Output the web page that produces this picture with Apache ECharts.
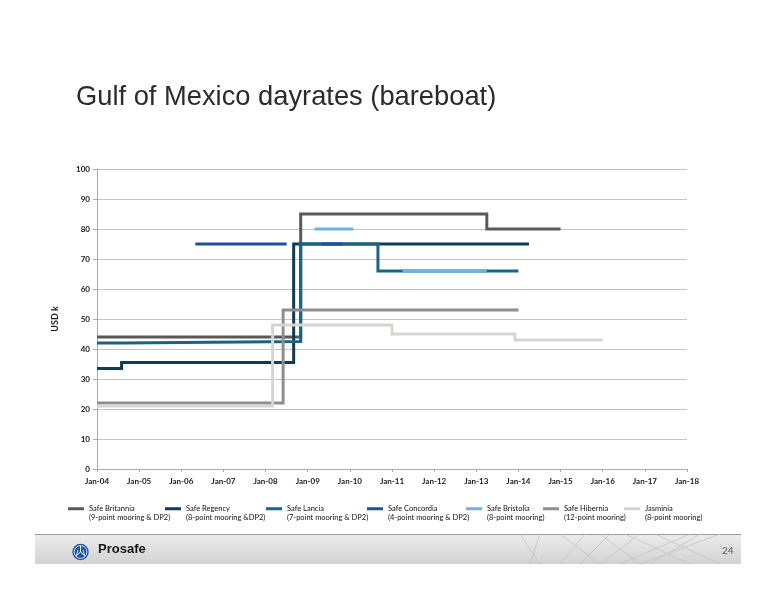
<!DOCTYPE html>
<html>
<head>
<meta charset="utf-8">
<script src="https://cdn.jsdelivr.net/npm/echarts@6/dist/echarts.min.js"></script>
<style>
html,body{margin:0;padding:0;background:#fff;}
#c{width:776px;height:600px;}
</style>
</head>
<body>
<div id="c"></div>
<script>
// ---- data (dates = start of each rate period, last date = end of last period; null = no contract) ----
const seriesNames = ['Safe Britannia','Safe Regency','Safe Lancia','Safe Concordia','Safe Bristolia','Safe Hibernia','Jasminia'];
const seriesNotes = ['(9-point mooring & DP2)','(8-point mooring &DP2)','(7-point mooring & DP2)','(4-point mooring & DP2)','(8-point mooring)','(12-point mooring)','(8-point mooring)'];

const britanniaDates  = ['2004-01','2008-11','2013-04','2015-01'];
const britanniaValues = [44, 85, 80];

const regencyDates  = ['2004-01','2004-08','2008-09','2014-04'];
const regencyValues = [33.5, 35.5, 75];

const lanciaDates  = ['2004-01','2004-08','2008-11','2010-09','2014-01'];
const lanciaValues = [42, 42.5, 75, 66];

const concordiaDates  = ['2006-05','2008-07','2009-05','2009-11'];
const concordiaValues = [75, null, 75];

const bristoliaDates  = ['2009-03','2010-02','2011-04','2013-04'];
const bristoliaValues = [80, null, 66];

const hiberniaDates  = ['2004-01','2008-06','2014-01'];
const hiberniaValues = [22, 53];

const jasminiaDates  = ['2004-01','2008-03','2011-01','2013-12','2016-01'];
const jasminiaValues = [21, 48, 45, 43];

const xTickYears = [2004,2005,2006,2007,2008,2009,2010,2011,2012,2013,2014,2015,2016,2017,2018];
const yTicks = [0,10,20,30,40,50,60,70,80,90,100];

const colors = ['#595959','#0e3a5c','#17657f','#1f4fa0','#6cb3e3','#8e8e8e','#d6d6d1'];

// ---- helpers ----
function toYear(s){ const p = s.split('-'); return +p[0] + (+p[1]-1)/12; }
function build(dates, values){
  const pts = [];
  for (let i=0;i<values.length;i++){
    const v = values[i];
    if (v == null){ pts.push([toYear(dates[i]), null]); continue; }
    pts.push([toYear(dates[i]), v]);
    if (values[i+1] == null) pts.push([toYear(dates[i+1]), v]);
  }
  return pts;
}
const allDates = [britanniaDates,regencyDates,lanciaDates,concordiaDates,bristoliaDates,hiberniaDates,jasminiaDates];
const allValues = [britanniaValues,regencyValues,lanciaValues,concordiaValues,bristoliaValues,hiberniaValues,jasminiaValues];

const series = seriesNames.map((n,i)=>({
  name:n, type:'line', step:'end', showSymbol:false, symbol:'none',
  connectNulls:false, silent:true, animation:false,
  data: build(allDates[i], allValues[i]),
  lineStyle:{color:colors[i], width:3, cap:'butt', join:'miter'},
  itemStyle:{color:colors[i]}
}));

const legendTextStarts = [89,186,287,388,487,564,645];
const legends = seriesNames.map((n,i)=>({
  data:[{name:n, icon:'rect'}],
  left: legendTextStarts[i]-21, top: 496,
  itemWidth:16, itemHeight:3, padding:0,
  formatter: () => '\n' + n + '\n' + seriesNotes[i],
  textStyle:{fontFamily:'Lato', fontSize:7.5, color:'#111111', lineHeight:8.5},
  selectedMode:false
}));

// decorative footer hatch lines
const hatch = [
  [[585,534],[560,564]],[[600,534],[640,564]],[[610,534],[580,564]],[[625,534],[690,564]],
  [[640,534],[600,564]],[[655,534],[720,564]],[[690,534],[620,564]],[[700,534],[650,564]],
  [[540,534],[530,564]],[[560,534],[600,564]],[[720,534],[640,564]],[[520,534],[540,564]]
];

const chart = echarts.init(document.getElementById('c'), null, {renderer:'canvas'});
chart.setOption({
  animation:false,
  backgroundColor:'#ffffff',
  title:{
    text:'Gulf of Mexico dayrates (bareboat)', left:71, top:79,
    textStyle:{fontFamily:'Liberation Sans', fontSize:27.3, fontWeight:'normal', color:'#2b2b2b'}
  },
  grid:{left:97, right:89, top:169, bottom:131, containLabel:false},
  xAxis:{
    type:'value', min:2004, max:2018, interval:1,
    axisLine:{show:true, lineStyle:{color:'#a8a8a8', width:1}},
    axisTick:{show:true, length:3, lineStyle:{color:'#a8a8a8'}},
    splitLine:{show:false},
    axisLabel:{margin:8, fontFamily:'Lato', fontWeight:'bold', fontSize:8, color:'#1a1a1a',
      formatter: v => 'Jan-' + String(v).slice(2)}
  },
  yAxis:{
    type:'value', min:0, max:100, interval:10,
    name:'USD k', nameLocation:'middle', nameGap:37, nameRotate:90,
    nameTextStyle:{fontFamily:'Lato', fontWeight:'bold', fontSize:9, color:'#1a1a1a'},
    axisLine:{show:true, lineStyle:{color:'#a8a8a8', width:1}},
    axisTick:{show:true, length:4, lineStyle:{color:'#a8a8a8'}},
    splitLine:{show:true, lineStyle:{color:'#c4c4c4', width:1}},
    axisLabel:{margin:7, fontFamily:'Lato', fontWeight:'bold', fontSize:8, color:'#1a1a1a'}
  },
  legend: legends,
  series: series,
  graphic:[
    {type:'rect', shape:{x:35, y:534, width:706, height:30}, z:-1,
      style:{fill:new echarts.graphic.LinearGradient(0,0,0,1,[{offset:0,color:'#ececec'},{offset:1,color:'#d2d2d2'}])}},
    {type:'line', shape:{x1:35,y1:534.5,x2:741,y2:534.5}, style:{stroke:'#9a9a9a', lineWidth:1}},
    ...hatch.map(h=>({type:'line', z:0, shape:{x1:h[0][0],y1:h[0][1],x2:h[1][0],y2:h[1][1]}, style:{stroke:'#c2c2c2', lineWidth:0.8}})),
    {type:'circle', shape:{cx:80.5, cy:552, r:8.2}, style:{fill:'#1c56a3'}},
    {type:'circle', shape:{cx:80.5, cy:552, r:6.4}, style:{fill:'none', stroke:'#ffffff', lineWidth:0.8}},
    {type:'polyline', shape:{points:[[80.5,546],[80.5,552],[76,556]]}, style:{stroke:'#fff', lineWidth:1, fill:'none'}},
    {type:'polyline', shape:{points:[[80.5,552],[85,556]]}, style:{stroke:'#fff', lineWidth:1, fill:'none'}},
    {type:'polyline', shape:{points:[[78,550],[76.5,555]]}, style:{stroke:'#fff', lineWidth:0.8, fill:'none'}},
    {type:'polyline', shape:{points:[[83,550],[84.5,555]]}, style:{stroke:'#fff', lineWidth:0.8, fill:'none'}},
    {type:'text', left:98, top:543, style:{text:'Prosafe', fontFamily:'Liberation Sans', fontWeight:'bold', fontSize:13, fill:'#151515'}},
    {type:'text', left:722, top:546, style:{text:'24', fontFamily:'Lato', fontSize:10, fill:'#5a5a5a'}}
  ]
});
</script>
</body>
</html>
